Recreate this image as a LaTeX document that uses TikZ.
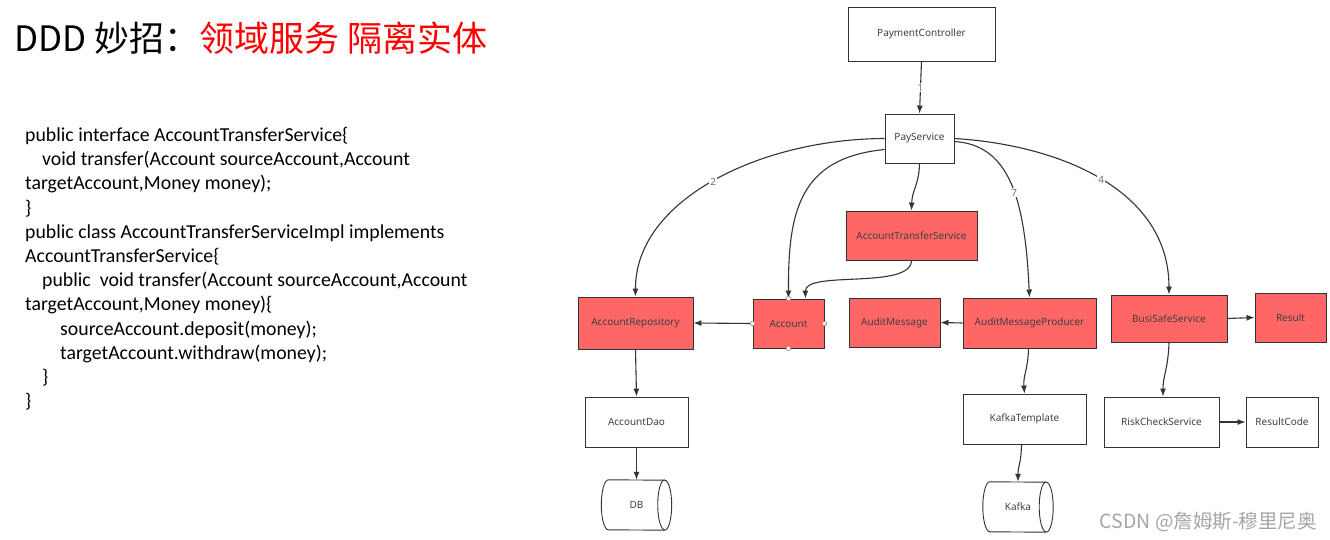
\documentclass[tikz,border=0pt]{standalone}
\usepackage{fontspec}
\setmainfont{Carlito}
\newfontfamily\cjk{Noto Sans CJK SC}
\newfontfamily\diafont{Noto Sans}
\usetikzlibrary{arrows.meta}
\definecolor{boxred}{RGB}{255,102,102}
\definecolor{linec}{RGB}{51,51,51}
\definecolor{txtc}{RGB}{64,64,64}
\definecolor{numc}{RGB}{110,110,110}
\definecolor{wmc}{RGB}{165,165,165}
\definecolor{handlec}{RGB}{190,120,120}
\newcommand\drawcyl[1]{%
  \draw[linec, line width=0.9pt] ([xshift=7pt]#1.north west) arc[start angle=90,end angle=270,x radius=7pt,y radius=25pt]
    -- ([xshift=-7pt]#1.south east) arc[start angle=-90,end angle=90,x radius=7pt,y radius=25pt] -- cycle;
  \draw[linec, line width=0.9pt] ([xshift=-7pt]#1.north east) arc[start angle=90,end angle=270,x radius=7pt,y radius=25pt];
}
\tikzset{
  box/.style={draw=linec, line width=0.9pt, fill=white, inner sep=0pt,
    font=\diafont\fontsize{10}{12}\selectfont, text=txtc},
  redbox/.style={box, fill=boxred},
  cylbox/.style={inner sep=0pt, minimum width=70pt, minimum height=50pt,
    font=\diafont\fontsize{10}{12}\selectfont, text=txtc},
  conn/.style={draw=linec, line width=1.1pt, -{Latex[length=8pt,width=6pt]}},
  num/.style={fill=white, inner sep=1pt, font=\diafont\fontsize{10}{12}\selectfont, text=numc},
  handle/.style={circle, draw=handlec, fill=white, inner sep=0pt, minimum size=4.5pt, line width=0.6pt},
}
\begin{document}
\begin{tikzpicture}[x=1pt,y=-1pt]
\useasboundingbox (0,0) rectangle (1330,540);

% title
\node[anchor=west, inner sep=0pt, font=\cjk\fontsize{35}{42}\selectfont] (title) at (14,38)
  {DDD 妙招：\textcolor{red}{领域服务 隔离实体}};

% code
\node[anchor=north west, align=left, inner sep=0pt, font=\fontsize{19.8}{24.2}\selectfont] (code) at (25,127)
{public interface AccountTransferService\{\\
\hspace*{17pt}void transfer(Account sourceAccount,Account\\
targetAccount,Money money);\\
\}\\
public class AccountTransferServiceImpl implements\\
AccountTransferService\{\\
\hspace*{17pt}public\ \ void transfer(Account sourceAccount,Account\\
targetAccount,Money money)\{\\
\hspace*{35pt}sourceAccount.deposit(money);\\
\hspace*{35pt}targetAccount.withdraw(money);\\
\hspace*{17pt}\}\\
\}};

% nodes
\node[box, minimum width=147pt, minimum height=54pt] (pc) at (921.5,34) {PaymentController};
\node[box, minimum width=69pt, minimum height=49pt] (ps) at (919.5,138.5) {PayService};
\node[redbox, minimum width=131pt, minimum height=49pt] (ats) at (911.5,235.5) {AccountTransferService};
\node[redbox, minimum width=115pt, minimum height=52pt] (ar) at (635.5,323) {AccountRepository};
\node[redbox, minimum width=71pt, minimum height=49pt] (acc) at (788.5,323.5) {Account};
\node[redbox, minimum width=91pt, minimum height=49pt] (am) at (894.5,322.5) {AuditMessage};
\node[redbox, minimum width=133pt, minimum height=50pt] (amp) at (1029.5,323) {AuditMessageProducer};
\node[redbox, minimum width=116pt, minimum height=47pt] (bss) at (1169,318.5) {BusiSafeService};
\node[redbox, minimum width=71pt, minimum height=49pt] (res) at (1290.5,317.5) {Result};
\node[box, minimum width=103pt, minimum height=50pt] (ad) at (636.5,422) {AccountDao};
\node[box, minimum width=123pt, minimum height=50pt] (kt) at (1024.5,419) {KafkaTemplate};
\node[box, minimum width=115pt, minimum height=50pt] (rcs) at (1161.5,422) {RiskCheckService};
\node[box, minimum width=72pt, minimum height=50pt] (rc) at (1282,422) {ResultCode};
\node[cylbox] (db) at (636.5,505) {DB};
\node[cylbox] (kafka) at (1018,507) {Kafka};
\drawcyl{db}
\drawcyl{kafka}

% connectors
\draw[conn] (pc.south) -- node[num]{1} (ps.north);
\draw[conn] (ps.west) .. controls (760,139) and (635,200) .. node[num,pos=0.5]{2} (ar.north);
\draw[conn] ([yshift=-11pt]ps.west) .. controls (800,158) and (788,210) .. (acc.north);
\draw[conn] (ps.south) .. controls (919,185) and (912,190) .. (ats.north);
\draw[conn] (ats.south) .. controls (911,290) and (805,270) .. ([xshift=17pt]acc.north);
\draw[conn] ([yshift=-3pt]ps.east) .. controls (1010,145) and (1025,200) .. node[num,pos=0.55]{7} (amp.north);
\draw[conn] (ps.east) .. controls (1060,145) and (1169,190) .. node[num,pos=0.5]{4} (bss.north);
\draw[conn] (acc.west) -- (ar.east);
\draw[conn] (amp.west) -- (am.east);
\draw[conn] (bss.east) -- (res.west);
\draw[conn] (rcs.east) -- (rc.west);
\draw[conn] (ar.south) -- (ad.north);
\draw[conn] (ad.south) -- (db.north);
\draw[conn] ([xshift=-1pt]amp.south) .. controls (1028,370) and (1023,375) .. (kt.north);
\draw[conn] ([xshift=-3pt]kt.south) .. controls (1021,465) and (1018,465) .. (kafka.north);
\draw[conn] (bss.south) .. controls (1168,370) and (1163,375) .. ([xshift=1.5pt]rcs.north);

% selection handles on Account
\node[handle] (h1) at (acc.north) {};
\node[handle] (h2) at (acc.west) {};
\node[handle] (h3) at (acc.east) {};
\node[handle] (h4) at (acc.south) {};

% watermark
\node[anchor=east, inner sep=0pt, font=\cjk\fontsize{19.5}{22}\selectfont, text=wmc] (wm) at (1317,522)
  {CSDN @詹姆斯-穆里尼奥};
\end{tikzpicture}
\end{document}
